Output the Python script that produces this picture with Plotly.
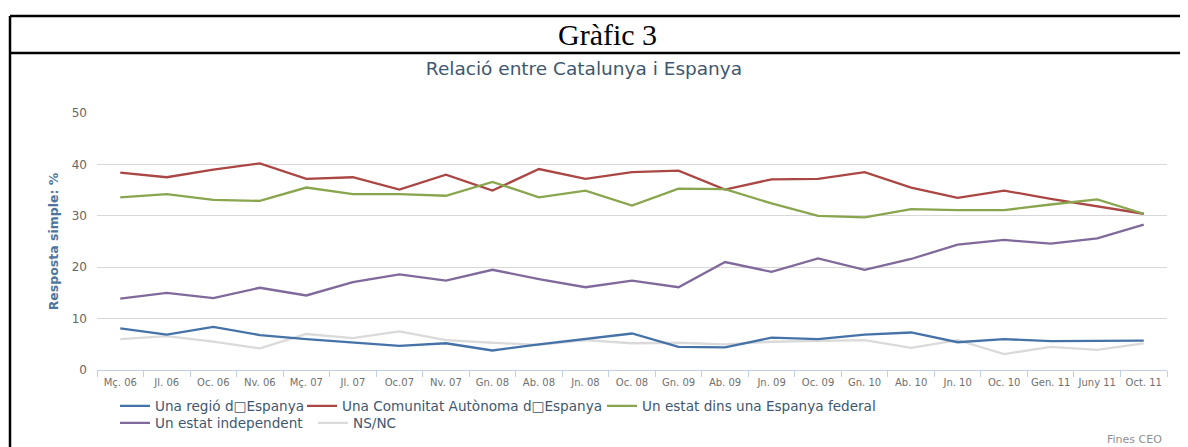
import plotly.graph_objects as go

# the page body adds an 8px margin, so the figure is drawn 8px smaller
# and every reference pixel position is shifted by that offset
OFF = 8
W, H = 1188 - OFF, 447 - OFF
# plot area in reference pixels
PL, PR, PT, PB = 97 - OFF, 1167 - OFF, 113 - OFF, 370 - OFF

periods = ["Mç. 06", "Jl. 06", "Oc. 06", "Nv. 06", "Mç. 07", "Jl. 07", "Oc.07", "Nv. 07",
           "Gn. 08", "Ab. 08", "Jn. 08", "Oc. 08", "Gn. 09", "Ab. 09", "Jn. 09", "Oc. 09",
           "Gn. 10", "Ab. 10", "Jn. 10", "Oc. 10", "Gen. 11", "Juny 11", "Oct. 11"]

regio = [8.1, 6.9, 8.4, 6.8, 6.0, 5.3, 4.7, 5.2, 3.8, 5.0, 6.0, 7.1,
         4.5, 4.4, 6.3, 6.0, 6.9, 7.3, 5.4, 6.0, 5.6, 5.6, 5.7]
comunitat = [38.4, 37.5, 39.0, 40.2, 37.2, 37.5, 35.1, 38.0, 34.9, 39.1, 37.2, 38.5,
             38.8, 35.1, 37.1, 37.2, 38.5, 35.5, 33.5, 34.9, 33.3, 31.9, 30.4]
federal = [33.6, 34.2, 33.1, 32.9, 35.5, 34.2, 34.2, 33.9, 36.6, 33.6, 34.9, 32.0,
           35.3, 35.2, 32.4, 30.0, 29.7, 31.3, 31.1, 31.1, 32.2, 33.2, 30.4]
independent = [13.9, 15.0, 14.0, 16.0, 14.5, 17.1, 18.6, 17.4, 19.5, 17.7, 16.1, 17.4,
               16.1, 21.0, 19.1, 21.7, 19.5, 21.6, 24.4, 25.3, 24.6, 25.6, 28.3]
nsnc = [6.0, 6.6, 5.5, 4.2, 7.0, 6.2, 7.5, 5.8, 5.3, 4.9, 5.8, 5.2,
        5.3, 5.0, 5.5, 5.6, 5.8, 4.3, 5.8, 3.1, 4.5, 3.9, 5.2]

series_names = ["Una regió d\u25a1Espanya", "Una Comunitat Autònoma d\u25a1Espanya",
                "Un estat dins una Espanya federal", "Un estat independent", "NS/NC"]


def px_x(px):
    # reference pixel -> paper x
    return (px - OFF - PL) / (PR - PL)


def px_y(py):
    # reference pixel -> paper y
    return (PB - (py - OFF)) / (PB - PT)


FONT = "DejaVu Sans"

fig = go.Figure()
# draw order: light line first so coloured lines sit on top
order = [4, 0, 1, 2, 3]
values = [regio, comunitat, federal, independent, nsnc]
colors = ["#4572A7", "#AA4643", "#89A54E", "#80699B", "#DADADA"]
legends = ["legend", "legend2", "legend3", "legend4", "legend5"]
for i in order:
    fig.add_trace(go.Scatter(
        x=periods, y=values[i], name=series_names[i], mode="lines",
        line=dict(color=colors[i], width=2.3),
        legend=legends[i], showlegend=True,
    ))

# legend entries: (text start px, row centre px) in the reference
leg_pos = [(155, 406), (342, 406), (642, 406), (155, 423), (353, 423)]
leg_layout = {}
for i, (tx, ty) in enumerate(leg_pos):
    leg_layout[legends[i]] = dict(
        x=px_x(tx - 40), y=px_y(ty), xanchor="left", yanchor="middle",
        orientation="h", bgcolor="rgba(0,0,0,0)", borderwidth=0,
        font=dict(family=FONT, size=13.6, color="#3E576F"),
        tracegroupgap=0, itemwidth=30, visible=True,
    )

fig.update_layout(
    width=W, height=H, autosize=False,
    margin=dict(l=PL, r=W - PR, t=PT, b=H - PB, autoexpand=False),
    paper_bgcolor="white", plot_bgcolor="white",
    font=dict(family=FONT, color="#666666"),
    title=dict(text="Relació entre Catalunya i Espanya", x=(584 - OFF) / W, xanchor="center",
               y=1 - (69 - OFF) / H, yanchor="middle",
               font=dict(family=FONT, size=18.5, color="#3E576F")),
    xaxis=dict(type="category", range=[-0.5, len(periods) - 0.5],
               tickson="boundaries", ticks="outside", ticklen=6, tickcolor="#C0D0E0",
               showline=True, linecolor="#C0D0E0", linewidth=1, showgrid=False,
               tickangle=0, automargin=False, ticklabelstandoff=3,
               tickfont=dict(family=FONT, size=10, color="#707070")),
    yaxis=dict(range=[0, 50], dtick=10, showgrid=True, gridcolor="#D8D8D8", gridwidth=1,
               zeroline=False, showline=False, ticks="", ticklabelstandoff=9,
               automargin=False,
               tickfont=dict(family=FONT, size=12, color="#666666"),
               title=dict(text="<b>Resposta simple: %</b>", standoff=10,
                          font=dict(family=FONT, size=12.5, color="#4D759E"))),
    showlegend=True,
    **leg_layout,
)

# frame of the surrounding table
frame = dict(color="black", width=2.5)
shapes = [
    dict(type="line", xref="paper", yref="paper", x0=px_x(10), x1=px_x(1200),
         y0=px_y(16), y1=px_y(16), line=frame),
    dict(type="line", xref="paper", yref="paper", x0=px_x(10), x1=px_x(1200),
         y0=px_y(53), y1=px_y(53), line=frame),
    dict(type="line", xref="paper", yref="paper", x0=px_x(10), x1=px_x(10),
         y0=px_y(16), y1=px_y(460), line=frame),
]
fig.update_layout(shapes=shapes)

fig.add_annotation(text="Gràfic 3", xref="paper", yref="paper", x=px_x(607), y=px_y(35),
                   xanchor="center", yanchor="middle", showarrow=False,
                   font=dict(family="Liberation Serif", size=30, color="black"))
fig.add_annotation(text="Fines CEO", xref="paper", yref="paper", x=px_x(1164), y=px_y(439),
                   xanchor="right", yanchor="middle", showarrow=False,
                   font=dict(family=FONT, size=11, color="#909090"))

fig.write_html("out.html")
